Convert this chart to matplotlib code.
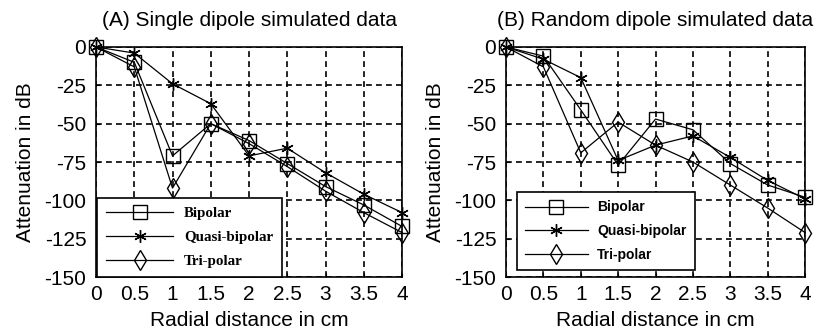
import numpy as np
import matplotlib
matplotlib.use("Agg")
import matplotlib.pyplot as plt

plt.rcParams['font.family'] = ['Liberation Sans', 'DejaVu Sans']
plt.rcParams['axes.unicode_minus'] = False

x = [0, 0.5, 1, 1.5, 2, 2.5, 3, 3.5, 4]

# (A) single dipole
a_bipolar = [0, -10, -71, -50, -61, -76, -91, -103, -117]
a_quasi = [0, -4, -24, -37, -71, -66, -82, -96, -108]
a_tri = [0, -13, -92, -50, -63, -78, -94, -108, -121]

# (B) random dipole
b_bipolar = [0, -6, -41, -77, -47, -54, -76, -90, -98]
b_quasi = [0, -8, -20, -74, -64, -58, -72, -87, -99]
b_tri = [0, -13, -69, -49, -64, -75, -90, -105, -121]

labels = ['Bipolar', 'Quasi-bipolar', 'Tri-polar']
xticks = [0, 0.5, 1, 1.5, 2, 2.5, 3, 3.5, 4]
xticklabels = ['0', '0.5', '1', '1.5', '2', '2.5', '3', '3.5', '4']
yticks = [0, -25, -50, -75, -100, -125, -150]
titles = ['(A) Single dipole simulated data', '(B) Random dipole simulated data']

fig = plt.figure(figsize=(8.15, 3.33), dpi=100)
ax1 = fig.add_axes([0.1178, 0.168, 0.3755, 0.691])
ax2 = fig.add_axes([0.6209, 0.168, 0.3669, 0.691])

markers = ['s', (6, 2, 0), 'd']
msizes = [9.5, 9, 10]


def draw(ax, series, title, legfont, legpos):
    for ys, lab, m, ms in zip(series, labels, markers, msizes):
        ax.plot(x, ys, '-', color='black', lw=0.9, marker=m, ms=ms,
                mfc='none', mec='black', mew=1.0, label=lab, clip_on=False,
                zorder=3)
    ax.set_xlim(0, 4)
    ax.set_ylim(-150, 0)
    ax.set_xticks(xticks)
    ax.set_xticklabels(xticklabels)
    ax.set_yticks(yticks)
    ax.tick_params(direction='in', length=3, labelsize=15)
    ax.tick_params(axis='x', pad=6)
    ax.tick_params(axis='y', pad=7)
    ax.grid(True, color='black', lw=1.2, linestyle=(0, (3.5, 2.5)))
    for s in ax.spines.values():
        s.set_linewidth(1.2)
    ax.set_title(title, fontsize=15, pad=15)
    ax.set_xlabel('Radial distance in cm', fontsize=15, labelpad=5)
    ax.set_ylabel('Attenuation in dB', fontsize=15, labelpad=7)
    leg = ax.legend(loc='lower left', bbox_to_anchor=legpos, borderaxespad=0,
                    prop=legfont, handlelength=4.5, handletextpad=0.7,
                    labelspacing=0.7, borderpad=0.6, fancybox=False,
                    framealpha=1, edgecolor='black', numpoints=1)
    leg.get_frame().set_linewidth(1.2)


draw(ax1, [a_bipolar, a_quasi, a_tri], titles[0],
     {'family': 'Liberation Serif', 'weight': 'bold', 'size': 10.8}, (0.003, 0.0))
draw(ax2, [b_bipolar, b_quasi, b_tri], titles[1],
     {'family': 'Liberation Sans', 'weight': 'bold', 'size': 10}, (0.036, 0.03))

fig.savefig('out.png', dpi=100)
